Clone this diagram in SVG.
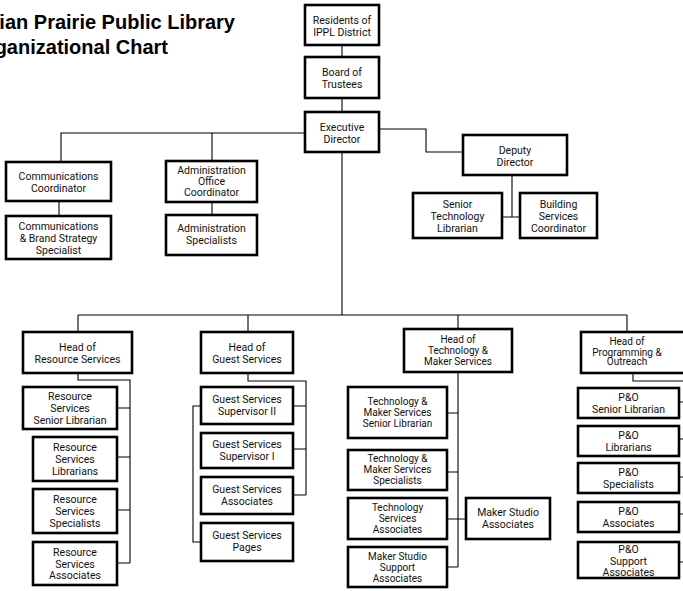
<svg xmlns="http://www.w3.org/2000/svg" width="683" height="591" viewBox="0 0 683 591">
<style>
.b{fill:#fff;stroke:#000;stroke-width:2.6}
.t{font-family:Roboto,"Liberation Sans",sans-serif;font-size:10.5px;fill:#111;text-anchor:middle}
.s{font-size:10px}
.c{fill:none;stroke:#000;stroke-width:1.1}
.title{font-family:"Liberation Sans",Arial,sans-serif;font-size:20px;font-weight:bold;fill:#000;text-anchor:end}
</style>
<rect width="683" height="591" fill="#fff"/>
<text class="title" x="235" y="29">ian Prairie Public Library</text>
<text class="title" x="168" y="54">ganizational Chart</text>
<g id="connectors">
<path class="c" d="M342,45V57M342,98V112"/>
<path class="c" d="M305,133H61V162M212,133V161"/>
<path class="c" d="M379,129H426V152H463"/>
<path class="c" d="M512,175V217M502,217H520"/>
<path class="c" d="M59,201V216M212,202V215"/>
<path class="c" d="M342,152V315M78,315H627M78,315V332M248,315V332M458,315V329M627,315V332"/>
<path class="c" d="M78,373V380H130V563M117,408H130M117,457H130M117,510H130M117,563H130"/>
<path class="c" d="M248,373V381H306V495M293,406H306M293,449H306M293,495H306M201,406H193V542H201"/>
<path class="c" d="M458,372V567M447,413H458M447,472H458M447,519H466M447,567H458"/>
<path class="c" d="M633,373V381H690M679,402H690M679,439H690M679,477H690M679,514H690M679,562H690"/>
</g>
<g id="residents"><rect class="b" x="305" y="5" width="74" height="40"/><text class="t" x="342" y="24">Residents of</text><text class="t" x="342" y="36">IPPL District</text></g>
<g id="board"><rect class="b" x="305" y="57" width="74" height="41"/><text class="t" x="342" y="76">Board of</text><text class="t" x="342" y="88">Trustees</text></g>
<g id="exec"><rect class="b" x="305" y="112" width="74" height="40"/><text class="t" x="342" y="131">Executive</text><text class="t" x="342" y="143">Director</text></g>
<g id="comm"><rect class="b" x="6" y="162" width="105" height="39"/><text class="t" x="58.5" y="180">Communications</text><text class="t" x="58.5" y="192">Coordinator</text></g>
<g id="commbrand"><rect class="b" x="6" y="216" width="105" height="43"/><text class="t" x="58.5" y="230">Communications</text><text class="t" x="58.5" y="242">&amp; Brand Strategy</text><text class="t" x="58.5" y="254">Specialist</text></g>
<g id="adminoffice"><rect class="b" x="166" y="161" width="91" height="41"/><text class="t" x="211.5" y="174">Administration</text><text class="t" x="211.5" y="185">Office</text><text class="t" x="211.5" y="196">Coordinator</text></g>
<g id="adminspec"><rect class="b" x="166" y="215" width="91" height="40"/><text class="t" x="211.5" y="232">Administration</text><text class="t" x="211.5" y="244">Specialists</text></g>
<g id="deputy"><rect class="b" x="463" y="135" width="104" height="40"/><text class="t" x="515" y="154">Deputy</text><text class="t" x="515" y="166">Director</text></g>
<g id="seniortech"><rect class="b" x="413" y="193" width="89" height="45"/><text class="t" x="457.5" y="208">Senior</text><text class="t" x="457.5" y="220">Technology</text><text class="t" x="457.5" y="232">Librarian</text></g>
<g id="building"><rect class="b" x="520" y="193" width="77" height="45"/><text class="t" x="558.5" y="208">Building</text><text class="t" x="558.5" y="220">Services</text><text class="t" x="558.5" y="232">Coordinator</text></g>
<g id="headres"><rect class="b" x="23" y="332" width="109" height="41"/><text class="t" x="77.5" y="351">Head of</text><text class="t" x="77.5" y="363">Resource Services</text></g>
<g id="res1"><rect class="b" x="23" y="387" width="94" height="42"/><text class="t" x="70" y="400">Resource</text><text class="t" x="70" y="412">Services</text><text class="t" x="70" y="424">Senior Librarian</text></g>
<g id="res2"><rect class="b" x="33" y="437" width="84" height="44"/><text class="t" x="75" y="451">Resource</text><text class="t" x="75" y="463">Services</text><text class="t" x="75" y="475">Librarians</text></g>
<g id="res3"><rect class="b" x="33" y="489" width="84" height="44"/><text class="t" x="75" y="503">Resource</text><text class="t" x="75" y="515">Services</text><text class="t" x="75" y="527">Specialists</text></g>
<g id="res4"><rect class="b" x="33" y="542" width="84" height="43"/><text class="t" x="75" y="556">Resource</text><text class="t" x="75" y="567.5">Services</text><text class="t" x="75" y="579">Associates</text></g>
<g id="headguest"><rect class="b" x="201" y="332" width="92" height="41"/><text class="t" x="247" y="351">Head of</text><text class="t" x="247" y="363">Guest Services</text></g>
<g id="gs1"><rect class="b" x="201" y="387" width="92" height="37"/><text class="t" x="247" y="403">Guest Services</text><text class="t" x="247" y="415">Supervisor II</text></g>
<g id="gs2"><rect class="b" x="201" y="433" width="92" height="35"/><text class="t" x="247" y="448">Guest Services</text><text class="t" x="247" y="460">Supervisor I</text></g>
<g id="gs3"><rect class="b" x="201" y="477" width="92" height="37"/><text class="t" x="247" y="493">Guest Services</text><text class="t" x="247" y="505">Associates</text></g>
<g id="gs4"><rect class="b" x="201" y="523" width="92" height="38"/><text class="t" x="247" y="539">Guest Services</text><text class="t" x="247" y="551">Pages</text></g>
<g id="headtech"><rect class="b" x="404" y="329" width="108" height="43"/><text class="t s" x="458" y="343">Head of</text><text class="t s" x="458" y="354">Technology &amp;</text><text class="t s" x="458" y="364.5">Maker Services</text></g>
<g id="tm1"><rect class="b" x="348" y="387" width="99" height="51"/><text class="t s" x="397.5" y="405">Technology &amp;</text><text class="t s" x="397.5" y="416">Maker Services</text><text class="t s" x="397.5" y="426.5">Senior Librarian</text></g>
<g id="tm2"><rect class="b" x="348" y="450" width="99" height="40"/><text class="t s" x="397.5" y="462">Technology &amp;</text><text class="t s" x="397.5" y="473">Maker Services</text><text class="t s" x="397.5" y="483.5">Specialists</text></g>
<g id="tm3"><rect class="b" x="348" y="498" width="99" height="41"/><text class="t s" x="397.5" y="511">Technology</text><text class="t s" x="397.5" y="522">Services</text><text class="t s" x="397.5" y="532.5">Associates</text></g>
<g id="tm4"><rect class="b" x="348" y="547" width="99" height="40"/><text class="t s" x="397.5" y="560">Maker Studio</text><text class="t s" x="397.5" y="571">Support</text><text class="t s" x="397.5" y="581.5">Associates</text></g>
<g id="msa"><rect class="b" x="466" y="498" width="84" height="41"/><text class="t" x="508" y="516">Maker Studio</text><text class="t" x="508" y="527.5">Associates</text></g>
<g id="headprog"><rect class="b" x="581" y="332" width="110" height="41"/><text class="t s" x="627" y="345">Head of</text><text class="t s" x="627" y="355.5">Programming &amp;</text><text class="t s" x="627" y="365">Outreach</text></g>
<g id="po1"><rect class="b" x="578" y="388" width="101" height="30"/><text class="t" x="628.5" y="401">P&amp;O</text><text class="t" x="628.5" y="413">Senior Librarian</text></g>
<g id="po2"><rect class="b" x="578" y="426" width="101" height="30"/><text class="t" x="628.5" y="439">P&amp;O</text><text class="t" x="628.5" y="451">Librarians</text></g>
<g id="po3"><rect class="b" x="578" y="463" width="101" height="30"/><text class="t" x="628.5" y="476">P&amp;O</text><text class="t" x="628.5" y="488">Specialists</text></g>
<g id="po4"><rect class="b" x="578" y="502" width="101" height="30"/><text class="t" x="628.5" y="515">P&amp;O</text><text class="t" x="628.5" y="527">Associates</text></g>
<g id="po5"><rect class="b" x="578" y="542" width="101" height="36"/><text class="t" x="628.5" y="553">P&amp;O</text><text class="t" x="628.5" y="564.5">Support</text><text class="t" x="628.5" y="576">Associates</text></g>
</svg>
